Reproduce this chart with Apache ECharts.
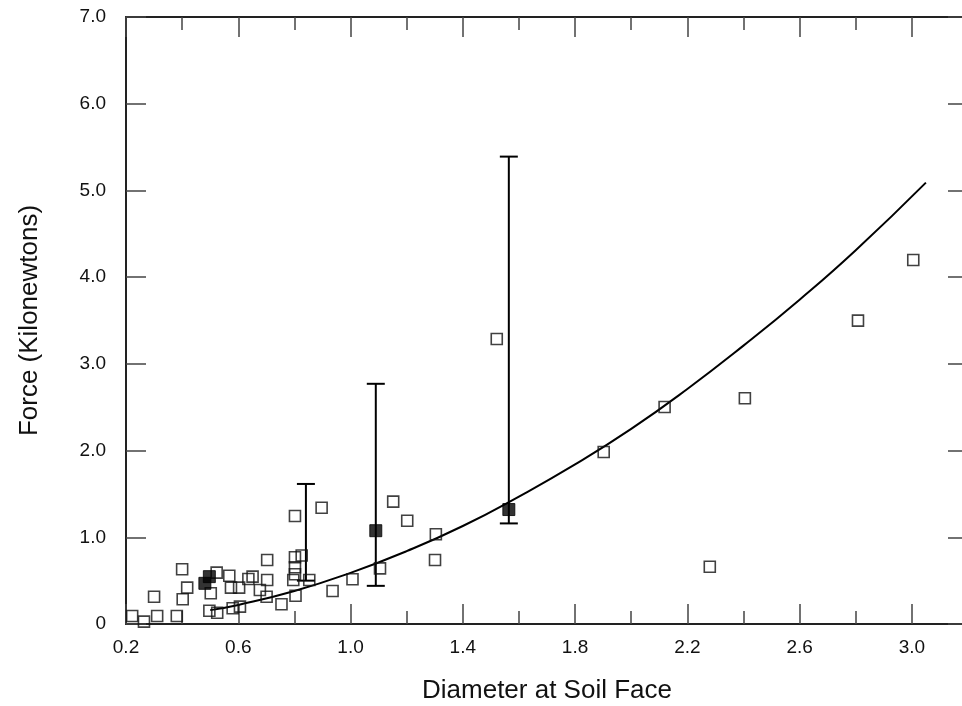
<!DOCTYPE html>
<html>
<head>
<meta charset="utf-8">
<script src="https://cdn.jsdelivr.net/npm/echarts@6/dist/echarts.min.js"></script>
<style>
  html, body { margin: 0; padding: 0; background: #fff; }
  #chart { width: 962px; height: 706px; }
</style>
</head>
<body>
<div id="chart"></div>
<script>
// Individual measurements (open squares)
const openX = [0.222, 0.264, 0.311, 0.381, 0.300, 0.400, 0.418, 0.402, 0.523, 0.502,
               0.497, 0.525, 0.568, 0.574, 0.603, 0.636, 0.651, 0.677, 0.703, 0.703,
               0.701, 0.580, 0.606, 0.754, 0.802, 0.897, 0.802, 0.826, 0.802, 0.802,
               0.796, 0.853, 0.804, 0.936, 1.007, 1.152, 1.202, 1.304, 1.301, 1.105,
               1.521, 1.902, 2.119, 2.280, 2.405, 2.808, 3.005];
const openY = [0.092, 0.027, 0.092, 0.092, 0.315, 0.631, 0.419, 0.285, 0.592, 0.354,
               0.153, 0.130, 0.557, 0.419, 0.419, 0.519, 0.546, 0.392, 0.738, 0.507,
               0.315, 0.181, 0.200, 0.227, 1.246, 1.341, 0.769, 0.790, 0.654, 0.573,
               0.507, 0.507, 0.326, 0.381, 0.516, 1.411, 1.191, 1.035, 0.738, 0.642,
               3.287, 1.984, 2.503, 0.661, 2.603, 3.498, 4.198];

// Group means (filled squares)
const meanX = [0.481, 0.497, 1.090, 1.564];
const meanY = [0.469, 0.546, 1.076, 1.320];

// Range bars: position, lower end, upper end
const barX = [0.841, 1.090, 1.564];
const barLow = [0.50, 0.44, 1.16];
const barHigh = [1.615, 2.77, 5.39];

// Fitted curve
const curveX = [0.50, 0.60, 0.80, 1.00, 1.20, 1.40, 1.60, 1.80, 2.00, 2.20, 2.40, 2.60, 2.80, 3.05];
const curveY = [0.16, 0.22, 0.38, 0.59, 0.84, 1.13, 1.47, 1.84, 2.25, 2.71, 3.21, 3.74, 4.31, 5.09];

// Axis labels
const xLabels = ['0.2', '0.6', '1.0', '1.4', '1.8', '2.2', '2.6', '3.0'];
const yLabels = ['0', '1.0', '2.0', '3.0', '4.0', '5.0', '6.0', '7.0'];

const FONT = '"Liberation Sans", Arial, Helvetica, sans-serif';
const AXIS_COLOR = '#222';
const TICK_COLOR = '#444';

const chart = echarts.init(document.getElementById('chart'), null, { renderer: 'canvas' });

function xAxisDef(position, showLabels) {
  return {
    type: 'value',
    position: position,
    min: 0.2,
    max: 3.2,
    interval: 0.4,
    name: showLabels ? 'Diameter at Soil Face' : '',
    nameLocation: 'middle',
    nameGap: 54,
    nameTextStyle: { fontFamily: FONT, fontSize: 26, color: '#111' },
    axisLine: { show: true, onZero: false, lineStyle: { color: AXIS_COLOR, width: 2 } },
    axisTick: { show: true, inside: true, length: 20, lineStyle: { color: TICK_COLOR, width: 1.5 } },
    minorTick: { show: true, splitNumber: 2, length: 13, lineStyle: { color: TICK_COLOR, width: 1.5 } },
    splitLine: { show: false },
    axisLabel: {
      show: showLabels,
      margin: 14,
      fontFamily: FONT,
      fontSize: 19,
      color: '#111',
      showMaxLabel: false,
      formatter: function (v) {
        const s = v.toFixed(1);
        return xLabels.indexOf(s) >= 0 ? s : '';
      }
    }
  };
}

function yAxisDef(position, showLabels) {
  return {
    type: 'value',
    position: position,
    min: 0,
    max: 7,
    interval: 1,
    name: showLabels ? 'Force (Kilonewtons)' : '',
    nameLocation: 'middle',
    nameGap: 83,
    nameTextStyle: { fontFamily: FONT, fontSize: 26, color: '#111' },
    axisLine: { show: true, onZero: false, lineStyle: { color: AXIS_COLOR, width: 2 } },
    axisTick: { show: true, inside: true, length: 20, lineStyle: { color: TICK_COLOR, width: 1.5 } },
    splitLine: { show: false },
    axisLabel: {
      show: showLabels,
      margin: 20,
      fontFamily: FONT,
      fontSize: 19,
      color: '#111',
      formatter: function (v) { return yLabels[Math.round(v)]; }
    }
  };
}

const openData = openX.map((x, i) => [x, openY[i]]);
const meanData = meanX.map((x, i) => [x, meanY[i]]);
const barData = barX.map((x, i) => [x, barLow[i], barHigh[i]]);
const curveData = curveX.map((x, i) => [x, curveY[i]]);

chart.setOption({
  animation: false,
  backgroundColor: '#fff',
  // plot frame runs a few pixels past the right edge of the canvas
  grid: { left: 126, top: 17, width: 842, height: 607, containLabel: false, outerBoundsMode: 'none' },
  xAxis: [xAxisDef('bottom', true), xAxisDef('top', false)],
  yAxis: [yAxisDef('left', true), yAxisDef('right', false)],
  series: [
    {
      type: 'line',
      data: curveData,
      smooth: true,
      showSymbol: false,
      lineStyle: { color: '#000', width: 2 },
      z: 2
    },
    {
      type: 'custom',
      data: barData,
      renderItem: function (params, api) {
        const x = api.value(0);
        const lo = api.coord([x, api.value(1)]);
        const hi = api.coord([x, api.value(2)]);
        const half = 9;
        const style = { stroke: '#000', lineWidth: 2 };
        return {
          type: 'group',
          children: [
            { type: 'line', shape: { x1: lo[0], y1: lo[1], x2: hi[0], y2: hi[1] }, style: style },
            { type: 'line', shape: { x1: lo[0] - half, y1: lo[1], x2: lo[0] + half, y2: lo[1] }, style: style },
            { type: 'line', shape: { x1: hi[0] - half, y1: hi[1], x2: hi[0] + half, y2: hi[1] }, style: style }
          ]
        };
      },
      z: 3
    },
    {
      type: 'scatter',
      data: openData,
      symbol: 'rect',
      symbolSize: 11,
      itemStyle: { color: 'rgba(255,255,255,0)', borderColor: '#111', borderWidth: 1.6 },
      z: 4
    },
    {
      type: 'scatter',
      data: meanData,
      symbol: 'rect',
      symbolSize: 12,
      itemStyle: { color: '#000', borderColor: '#000', borderWidth: 1 },
      z: 5
    }
  ]
});
</script>
</body>
</html>
